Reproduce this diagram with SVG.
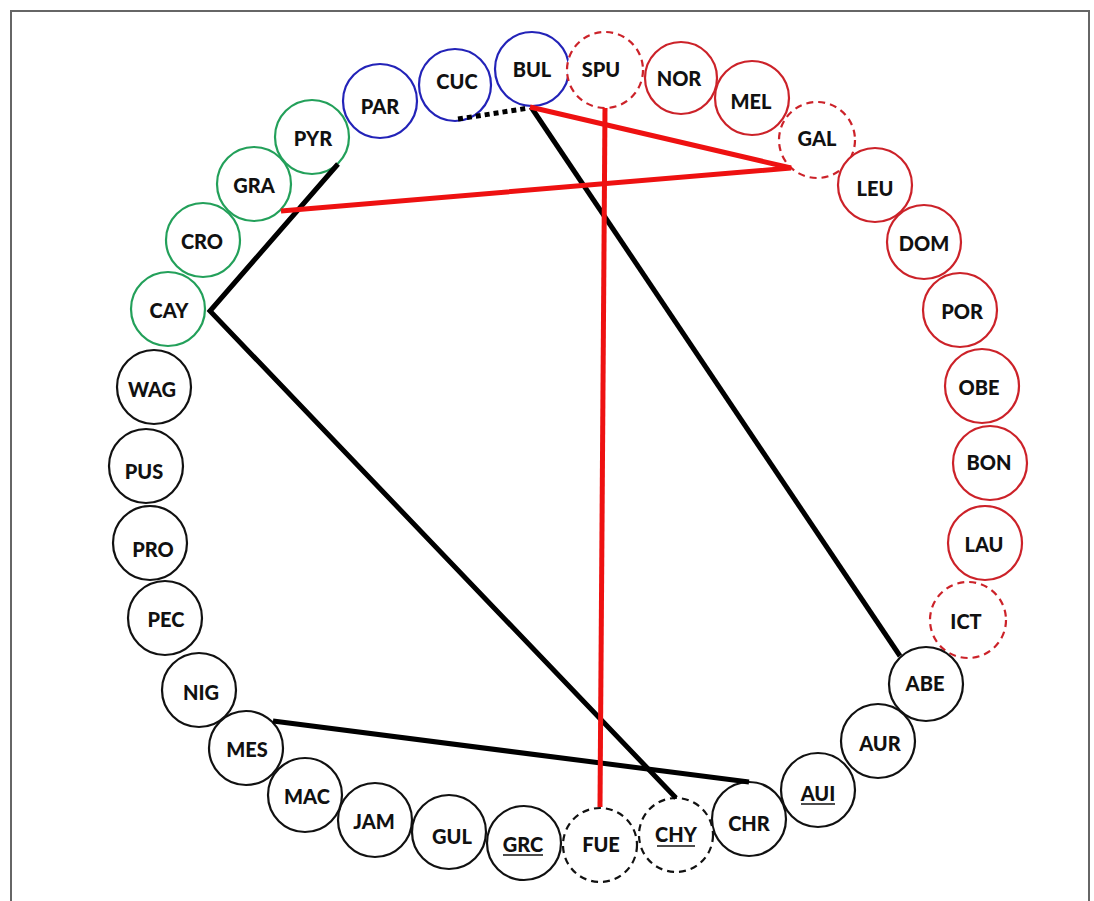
<svg xmlns="http://www.w3.org/2000/svg" width="1094" height="901" viewBox="0 0 1094 901">
<style>
.n{fill:#fff;stroke-width:2.2}
.k{stroke:#111}
.b{stroke:#2323b8}
.g{stroke:#23a05a}
.r{stroke:#cc2229}
.d{stroke-dasharray:7,5}
text{font-family:Lato,"Open Sans","Liberation Sans",sans-serif;font-weight:900;font-size:20px;fill:#111;text-anchor:middle}
.u{stroke:#111;stroke-width:1.6}
.lk{stroke:#000;stroke-width:5;fill:none;stroke-linecap:butt;stroke-linejoin:miter}
.lr{stroke:#ee1111;stroke-width:5;fill:none;stroke-linejoin:miter}
</style>
<rect x="0" y="0" width="1094" height="901" fill="#fff"/>
<path d="M11,901 V11 H1089 V901" fill="none" stroke="#666" stroke-width="2"/>
<g id="nodes">
<g id="BUL"><circle class="n b" cx="532" cy="69" r="37"/><text x="532" y="77">BUL</text></g>
<g id="CUC"><circle class="n b" cx="455" cy="85" r="36"/><text x="457" y="89">CUC</text></g>
<g id="PAR"><circle class="n b" cx="380" cy="101" r="37"/><text x="380" y="114">PAR</text></g>
<g id="SPU"><circle class="n r d" cx="605" cy="70" r="38"/><text x="601" y="77">SPU</text></g>
<g id="NOR"><circle class="n r" cx="681" cy="78" r="36"/><text x="679" y="86">NOR</text></g>
<g id="MEL"><circle class="n r" cx="752" cy="98" r="37"/><text x="751" y="109">MEL</text></g>
<g id="GAL"><circle class="n r d" cx="817" cy="140" r="38"/><text x="817" y="146">GAL</text></g>
<g id="LEU"><circle class="n r" cx="875" cy="185" r="37"/><text x="875" y="196">LEU</text></g>
<g id="DOM"><circle class="n r" cx="924" cy="242" r="37"/><text x="924" y="251">DOM</text></g>
<g id="POR"><circle class="n r" cx="960" cy="310" r="37"/><text x="962" y="319">POR</text></g>
<g id="OBE"><circle class="n r" cx="982" cy="386" r="37"/><text x="979" y="395">OBE</text></g>
<g id="BON"><circle class="n r" cx="990" cy="463" r="37"/><text x="989" y="470">BON</text></g>
<g id="LAU"><circle class="n r" cx="985" cy="543" r="37"/><text x="984" y="552">LAU</text></g>
<g id="ICT"><circle class="n r d" cx="968" cy="620" r="38"/><text x="966" y="629">ICT</text></g>
<g id="ABE"><circle class="n k" cx="926" cy="684" r="37"/><text x="925" y="691">ABE</text></g>
<g id="AUR"><circle class="n k" cx="878" cy="741" r="37"/><text x="880" y="751">AUR</text></g>
<g id="AUI"><circle class="n k" cx="818" cy="790" r="37"/><text x="818" y="801">AUI</text><line class="u" x1="801" y1="804" x2="835" y2="804"/></g>
<g id="CHR"><circle class="n k" cx="749" cy="819" r="37"/><text x="749" y="831">CHR</text></g>
<g id="CHY"><circle class="n k d" cx="676" cy="835" r="37"/><text x="676" y="842">CHY</text><line class="u" x1="657" y1="846" x2="695" y2="846"/></g>
<g id="FUE"><circle class="n k d" cx="600" cy="845" r="37"/><text x="601" y="852">FUE</text></g>
<g id="GRC"><circle class="n k" cx="524" cy="843" r="37"/><text x="523" y="852">GRC</text><line class="u" x1="503" y1="855" x2="543" y2="855"/></g>
<g id="GUL"><circle class="n k" cx="449" cy="832" r="37"/><text x="452" y="844">GUL</text></g>
<g id="JAM"><circle class="n k" cx="375" cy="820" r="37"/><text x="374" y="829">JAM</text></g>
<g id="MAC"><circle class="n k" cx="305" cy="795" r="37"/><text x="307" y="804">MAC</text></g>
<g id="MES"><circle class="n k" cx="246" cy="748" r="37"/><text x="247" y="757">MES</text></g>
<g id="NIG"><circle class="n k" cx="199" cy="690" r="37"/><text x="201" y="700">NIG</text></g>
<g id="PEC"><circle class="n k" cx="165" cy="618" r="37"/><text x="166" y="627">PEC</text></g>
<g id="PRO"><circle class="n k" cx="150" cy="543" r="37"/><text x="153" y="557">PRO</text></g>
<g id="PUS"><circle class="n k" cx="146" cy="466" r="37"/><text x="144" y="479">PUS</text></g>
<g id="WAG"><circle class="n k" cx="154" cy="387" r="37"/><text x="152" y="397">WAG</text></g>
<g id="CAY"><circle class="n g" cx="168" cy="309" r="37"/><text x="169" y="318">CAY</text></g>
<g id="CRO"><circle class="n g" cx="203" cy="240" r="37"/><text x="202" y="249">CRO</text></g>
<g id="GRA"><circle class="n g" cx="254" cy="184" r="37"/><text x="254" y="193">GRA</text></g>
<g id="PYR"><circle class="n g" cx="312" cy="137" r="37"/><text x="313" y="146">PYR</text></g>
</g>
<g id="connectors">
<line class="lk" x1="458" y1="119" x2="529" y2="108" stroke-dasharray="5,4"/>
<line class="lk" x1="531" y1="107" x2="900" y2="656"/>
<polyline class="lk" points="338,164 210,311 676,798"/>
<line class="lk" x1="273" y1="721" x2="749" y2="782"/>
<polyline class="lr" points="530,107 791,168 281,211"/>
<line class="lr" x1="605" y1="108" x2="600" y2="807"/>
</g>
</svg>
